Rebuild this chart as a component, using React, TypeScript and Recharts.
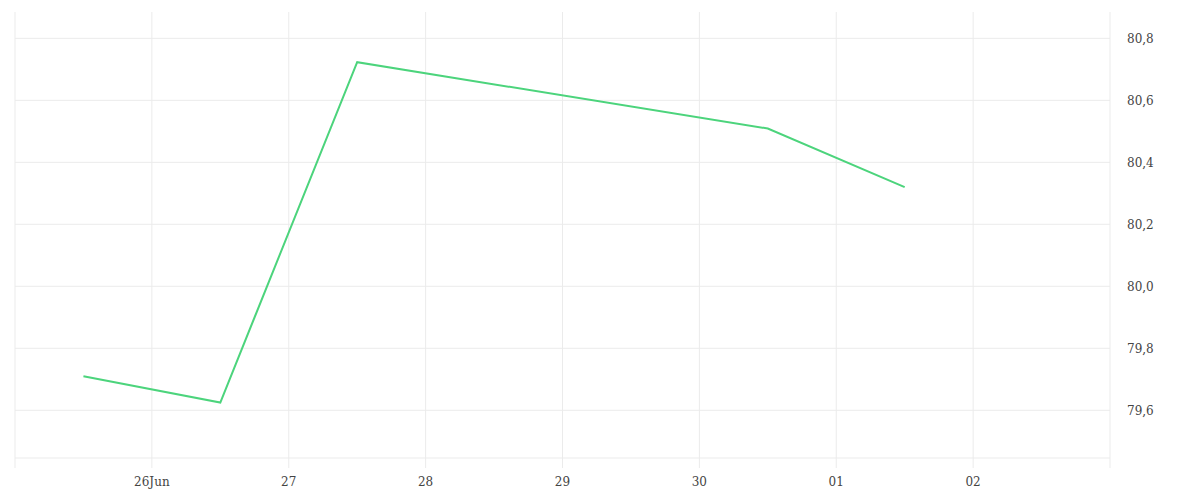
import React from 'react';
import { LineChart, Line, XAxis, YAxis, CartesianGrid } from 'recharts';

const dates = ['2025-06-25T12:00:00Z', '2025-06-26T12:00:00Z', '2025-06-27T12:00:00Z', '2025-06-30T12:00:00Z', '2025-07-01T12:00:00Z'];
const values = [79.71, 79.625, 80.723, 80.509, 80.32];

const tickDates = ['2025-06-25', '2025-06-26', '2025-06-27', '2025-06-28', '2025-06-29', '2025-06-30', '2025-07-01', '2025-07-02', '2025-07-03'];
const tickLabels = ['', '26Jun', '27', '28', '29', '30', '01', '02', ''];
const yTicks = [79.6, 79.8, 80.0, 80.2, 80.4, 80.6, 80.8];
const yDomain = [79.446, 80.885];

const toTs = (s: string) => new Date(s.length === 10 ? s + 'T00:00:00Z' : s).getTime();

const data = dates.map((d, i) => ({ t: toTs(d), v: values[i] }));
const xTicks = tickDates.map(toTs);
const labelMap: Record<number, string> = {};
xTicks.forEach((t, i) => { labelMap[t] = tickLabels[i]; });

const GRID = '#ebebeb';
const FONT = 'DejaVu Serif';

export default function App() {
  return (
    <LineChart width={1200} height={492} data={data} margin={{ top: 4, right: 38, bottom: 0, left: 7 }}>
      <CartesianGrid stroke={GRID} syncWithTicks />
      <XAxis
        dataKey="t"
        type="number"
        scale="time"
        domain={[xTicks[0], xTicks[xTicks.length - 1]]}
        ticks={xTicks}
        tickFormatter={(t: number) => labelMap[t] ?? ''}
        axisLine={{ stroke: GRID }}
        tickLine={{ stroke: GRID }}
        tickSize={10}
        tickMargin={9}
        tick={{ fill: '#444', fontSize: 12, fontFamily: FONT }}
        height={42}
        interval={0}
      />
      <YAxis
        orientation="right"
        type="number"
        domain={yDomain}
        ticks={yTicks}
        allowDataOverflow
        tickFormatter={(v: number) => v.toFixed(1).replace('.', ',')}
        axisLine={false}
        tickLine={false}
        tickSize={8}
        tickMargin={9}
        tick={{ fill: '#444', fontSize: 12, fontFamily: FONT }}
        width={60}
      />
      <Line type="linear" dataKey="v" stroke="#4cd47c" strokeWidth={2} dot={false} isAnimationActive={false} />
    </LineChart>
  );
}
